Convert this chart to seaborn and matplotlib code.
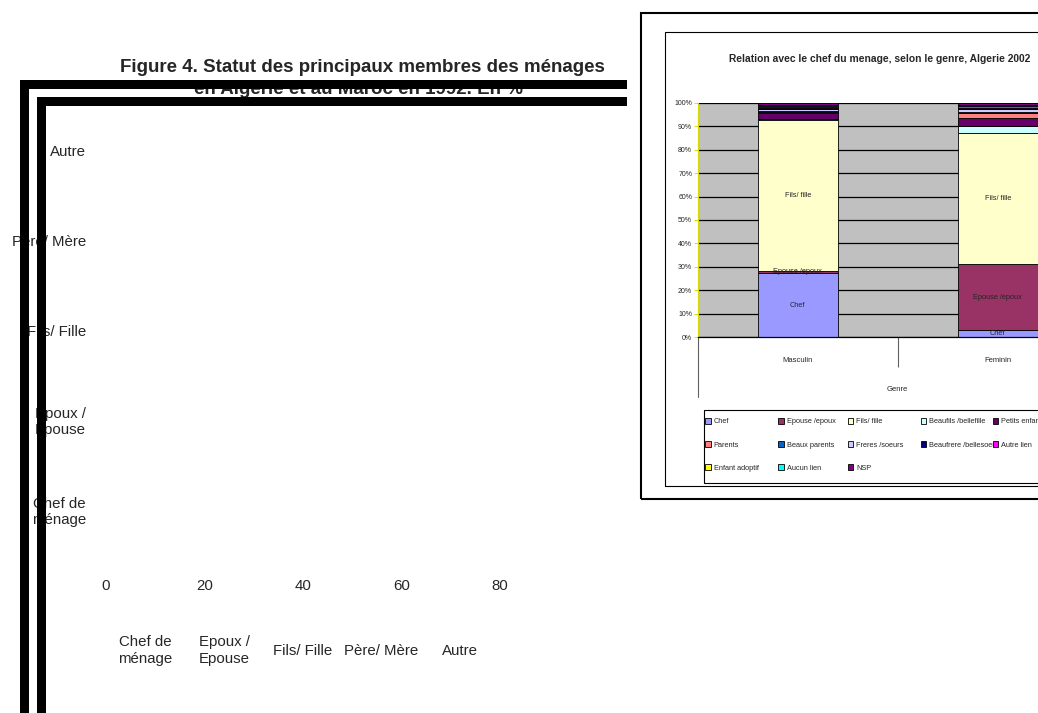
import numpy as np
import matplotlib
matplotlib.use("Agg")
import matplotlib.pyplot as plt
from matplotlib.patches import Rectangle, Patch
import seaborn as sns

# ---- Figure 4: household member status (category axis and percent scale)
statut_labels = ["Chef de\nménage", "Epoux /\nEpouse", "Fils/ Fille", "Père/ Mère", "Autre"]
pct_ticks = [0, 20, 40, 60, 80]

# ---- Relation to the household head by gender, Algeria 2002 (% of members)
genres = ["Masculin", "Feminin"]
relations = ["Chef", "Epouse /epoux", "Fils/ fille", "Beaufils /bellefille",
             "Petits enfants", "Parents", "Beaux parents", "Freres /soeurs",
             "Beaufrere /bellesoeu", "Autre lien", "Enfant adoptif",
             "Aucun lien", "NSP"]
masculin = [27.5, 0.7, 64.3, 0.5, 2.8, 0.4, 0.3, 0.8, 0.5, 0.5, 0.1, 0.6, 1.0]
feminin = [3.1, 28.1, 56.0, 2.8, 3.5, 2.0, 0.5, 1.3, 0.6, 0.7, 0.1, 0.5, 0.8]
relation_colors = ["#9999FF", "#993366", "#FFFFCC", "#CCFFFF", "#660066",
                   "#FF8080", "#0066CC", "#CCCCFF", "#000080", "#FF00FF",
                   "#FFFF00", "#00FFFF", "#800080"]
labelled = ["Chef", "Epouse /epoux", "Fils/ fille"]
pct_axis = list(range(0, 101, 10))

W, H = 1038, 713
sns.set_style("white")
plt.rcParams["font.family"] = ["Liberation Sans", "DejaVu Sans"]
narrow = ["Liberation Sans Narrow", "Liberation Sans", "DejaVu Sans"]


def box(l, t, r, b):
    return [l / W, 1 - b / H, (r - l) / W, (b - t) / H]


def fx(x):
    return x / W


def fy(y):
    return 1 - y / H


fig = plt.figure(figsize=(W / 100, H / 100), dpi=100)
fig.patch.set_facecolor("white")

# ---------------- left chart ----------------
ax = fig.add_axes(box(106, 106, 598.5, 554))
ax.set_xlim(0, 100)
ax.set_ylim(-0.5, 4.5)
ax.set_xticks(pct_ticks)
ax.set_xticklabels([str(v) for v in pct_ticks])
ax.set_yticks(range(len(statut_labels)))
ax.set_yticklabels(statut_labels)
for t in ax.get_yticklabels():
    t.set_multialignment("right")
ax.tick_params(length=0, labelsize=10.8)
ax.tick_params(axis="x", pad=18)
ax.tick_params(axis="y", pad=14.4)
for s in ax.spines.values():
    s.set_visible(False)
ax.patch.set_visible(False)

ax2 = ax.twiny()
ax2.set_xlim(-0.503, 5.771)
ax2.set_xticks(range(len(statut_labels)))
ax2.set_xticklabels(statut_labels)
ax2.xaxis.set_ticks_position("bottom")
ax2.tick_params(length=0, labelsize=10.8, pad=69.5)
for t in ax2.get_xticklabels():
    t.set_va("center")
    t.set_multialignment("center")
for s in ax2.spines.values():
    s.set_visible(False)
ax2.patch.set_visible(False)

fig.text(fx(362), fy(67), "Figure 4. Statut des principaux membres des ménages",
         ha="center", va="center", fontsize=13.5, fontweight="bold")
fig.text(fx(359), fy(89.5), "en Algérie et au Maroc en 1992. En %",
         ha="center", va="center", fontsize=13.5, fontweight="bold")

# heavy black frame bars drawn over the left chart
for (l, t, r, b) in [(20, 80, 29, 713), (20, 80, 627, 89),
                     (37, 97, 46, 713), (37, 97, 627, 106)]:
    fig.add_artist(Rectangle((fx(l), fy(b)), (r - l) / W, (b - t) / H,
                             transform=fig.transFigure, facecolor="black",
                             edgecolor="none", zorder=10))

# ---------------- right chart ----------------
fig.add_artist(Rectangle((fx(640.7), fy(499)), (1060 - 640.7) / W, (499 - 12.7) / H,
                         transform=fig.transFigure, facecolor="none",
                         edgecolor="black", linewidth=1.5, zorder=5))
fig.add_artist(Rectangle((fx(665), fy(485.5)), (1060 - 665) / W, (485.5 - 31.7) / H,
                         transform=fig.transFigure, facecolor="none",
                         edgecolor="black", linewidth=0.8, zorder=5))

fig.text(fx(880), fy(59.5), "Relation avec le chef du menage, selon le genre, Algerie 2002",
         ha="center", va="center", fontsize=7.4, fontweight="bold", family=narrow)

small = 5.3
rax = fig.add_axes(box(697.7, 102.7, 1097.7, 337.3))
rax.set_facecolor("#C0C0C0")
bottoms = np.zeros(len(genres))
for name, col, m, f in zip(relations, relation_colors, masculin, feminin):
    vals = np.array([m, f])
    sns.barplot(x=genres, y=vals, bottom=bottoms.copy(), color=col, width=0.4,
                saturation=1, edgecolor="black", linewidth=0.6, ax=rax)
    if name in labelled:
        rax.bar_label(rax.containers[-1], labels=[name] * len(genres),
                      label_type="center", fontsize=small, family=narrow)
    bottoms += vals

rax.set_xlim(-0.5, 1.5)
rax.set_ylim(0, 100)
rax.set_axisbelow(True)
rax.yaxis.grid(True, color="black", linewidth=0.9)
rax.xaxis.grid(False)
rax.set_yticks(pct_axis)
rax.set_yticklabels([f"{v}%" for v in pct_axis], family=narrow, fontsize=5.0)
rax.tick_params(axis="y", length=3, width=0.6, color="#D8D800", pad=1, left=True)
rax.set_xticks(range(len(genres)))
rax.set_xticklabels(genres, family=narrow, fontsize=5.5)
for t in rax.get_xticklabels():
    t.set_va("center")
rax.tick_params(axis="x", which="major", length=0, pad=16.5)
rax.set_xticks([0.5, 1.5], minor=True)
rax.tick_params(axis="x", which="minor", length=21.6, width=0.8, color="#606060",
                direction="out", bottom=True)
rax.plot([0, 0], [0, -59.4 / 234.6], transform=rax.transAxes, clip_on=False,
         color="#606060", linewidth=0.8)
rax.set_xlabel("Genre", family=narrow, fontsize=5.5)
rax.xaxis.set_label_coords(0.5, -(389.3 - 337.3) / 234.6)
rax.xaxis.label.set_va("center")
rax.set_ylabel("")
for side in ("top", "right"):
    rax.spines[side].set_visible(False)
rax.spines["left"].set_color("#D8D800")
rax.spines["left"].set_linewidth(0.8)
rax.spines["bottom"].set_color("black")
rax.spines["bottom"].set_linewidth(0.9)

# legend laid out row by row in five columns
fig.add_artist(Rectangle((fx(704), fy(482.5)), (1060 - 704) / W, (482.5 - 410) / H,
                         transform=fig.transFigure, facecolor="white",
                         edgecolor="black", linewidth=0.8, zorder=4))
handles = [Patch(facecolor=c, edgecolor="black", linewidth=0.6) for c in relation_colors]
col_x = [705, 778, 847.5, 920.5, 992.5]
ncols = 5
for c, x0 in enumerate(col_x):
    idx = list(range(c, len(relations), ncols))
    leg = fig.legend([handles[i] for i in idx], [relations[i] for i in idx],
                     loc="upper left", bbox_to_anchor=(fx(x0), fy(418)),
                     bbox_transform=fig.transFigure, frameon=False,
                     borderpad=0, borderaxespad=0, handlelength=0.8,
                     handleheight=0.8, handletextpad=0.4, labelspacing=2.15,
                     prop={"family": narrow, "size": small})
    leg.set_zorder(6)

fig.savefig("out.png", dpi=100)
